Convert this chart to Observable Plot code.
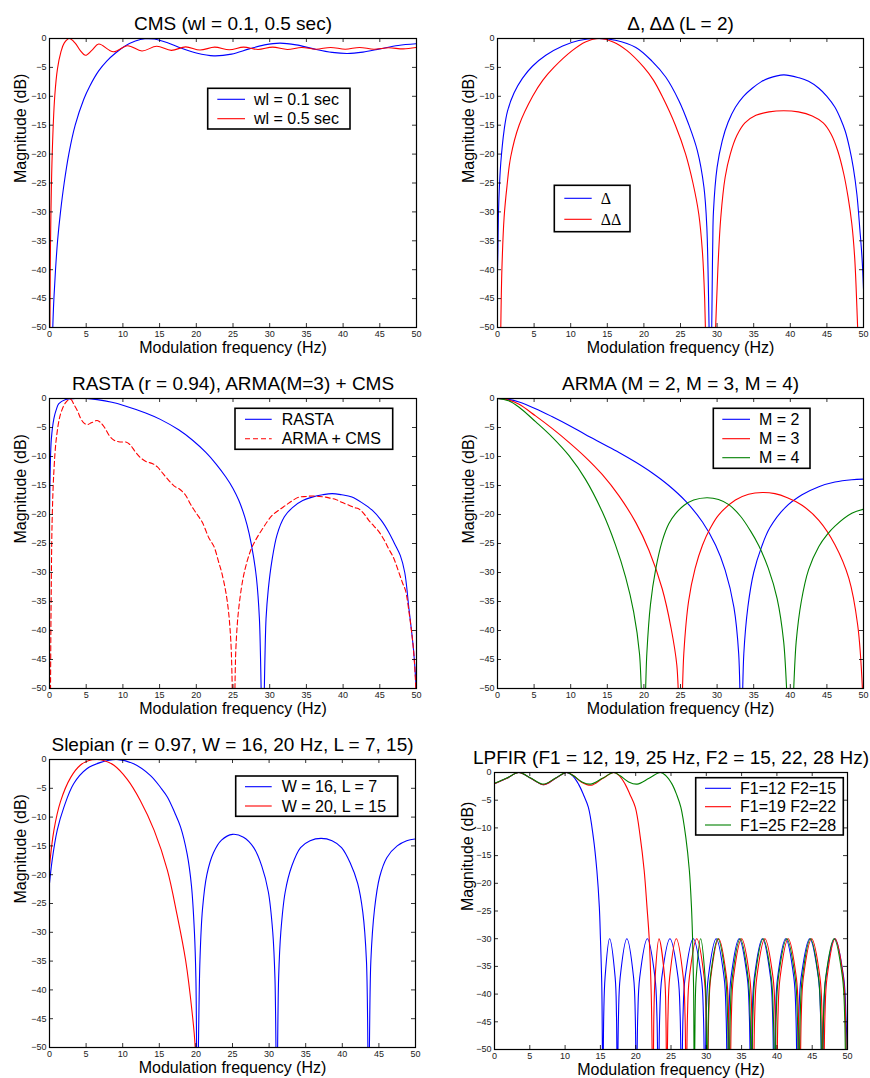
<!DOCTYPE html>
<html><head><meta charset="utf-8">
<script src="https://cdn.jsdelivr.net/npm/d3@7"></script>
<script src="https://cdn.jsdelivr.net/npm/@observablehq/plot@0.6"></script>
<style>
body{margin:0;background:#fff;}
#fig{position:relative;width:870px;height:1078px;background:#fff;overflow:hidden;}
.pn{position:absolute;}
</style></head><body><div id="fig"></div>
<script>
// ---------- tick values ----------
const xTicks = [0,5,10,15,20,25,30,35,40,45,50];
const yTicks = [0,-5,-10,-15,-20,-25,-30,-35,-40,-45,-50];

// ---------- titles & labels ----------
const titles = ["CMS (wl = 0.1, 0.5 sec)", "Δ, ΔΔ (L = 2)", "RASTA (r = 0.94), ARMA(M=3) + CMS",
  "ARMA (M = 2, M = 3, M = 4)", "Slepian (r = 0.97, W = 16, 20 Hz, L = 7, 15)",
  "LPFIR (F1 = 12, 19, 25 Hz, F2 = 15, 22, 28 Hz)"];
const xLabel = "Modulation frequency (Hz)";
const yLabel = "Magnitude (dB)";
const cmsLabels = ["wl = 0.1 sec", "wl = 0.5 sec"];
const deltaLabels = ["Δ", "ΔΔ"];
const rastaLabels = ["RASTA", "ARMA + CMS"];
const armaLabels = ["M = 2", "M = 3", "M = 4"];
const slepLabels = ["W = 16, L = 7", "W = 20, L = 15"];
const firLabels = ["F1=12 F2=15", "F1=19 F2=22", "F1=25 F2=28"];

// ---------- series: [frequency Hz, magnitude dB] ----------
const cmsShort = [[0.35,-60],[0.45,-50],[0.6,-45],[0.82,-40],[1.1,-35],[1.5,-30],[2.0,-25],[2.63,-20],[3.5,-15],[4.67,-10.5],[5.5,-8.2],[6.7,-5.6],[7.8,-3.9],[9.0,-2.5],[10.3,-1.3],[11.7,-0.45],[13.0,-0.05],[14.3,-0.1],[16.0,-0.7],[18.0,-1.7],[20.0,-2.5],[22.4,-3.0],[24.8,-2.7],[27.2,-1.8],[29.3,-1.1],[31.4,-0.8],[33.6,-1.1],[36.0,-1.8],[38.5,-2.4],[40.6,-2.6],[42.7,-2.35],[45.0,-1.8],[47.5,-1.2],[50,-0.9]];
const cmsLong = [[0.05,-60],[0.1,-40],[0.37,-20],[0.72,-9.9],[1.09,-5.2],[1.54,-2.4],[2.0,-0.8],[2.7,0],[3.5,-0.8],[4.2,-2.1],[4.9,-2.9],[5.8,-2.0],[6.7,-0.95],[8.7,-2.3],[10.65,-1.25],[12.6,-2.15],[14.6,-1.35],[16.6,-2.05],[18.55,-1.45],[20.5,-2.0],[22.5,-1.5],[24.5,-1.95],[26.45,-1.5],[28.4,-1.9],[30.4,-1.5],[32.4,-1.9],[34.35,-1.55],[36.3,-1.85],[38.3,-1.55],[40.3,-1.85],[42.25,-1.55],[44.2,-1.85],[46.2,-1.6],[48.2,-1.8],[50,-1.55]];

const deltaD = [[0,-40],[0.05,-37],[0.12,-31],[0.23,-26.5],[0.45,-21.5],[0.91,-15.8],[1.36,-12.6],[2.27,-9.4],[3.4,-6.9],[4.77,-4.8],[6.6,-2.9],[8.9,-1.3],[11.1,-0.35],[13.6,0],[16.1,-0.3],[18.9,-1.55],[21.1,-3.9],[23,-6.7],[24.8,-10.8],[26.1,-14.8],[27.3,-19.4],[28.2,-25.7],[28.6,-32.7],[29.1,-60],[29.4,-36],[29.5,-30],[30,-22.3],[30.7,-17.7],[31.5,-14.5],[32.5,-11.9],[33.6,-10],[34.8,-8.6],[36,-7.5],[37,-6.9],[39.1,-6.3],[41.2,-6.8],[42.5,-7.4],[43.9,-8.6],[45,-10],[46.1,-11.9],[46.9,-14],[47.5,-16],[48.1,-19],[48.6,-22.3],[49.1,-27],[49.5,-33],[49.8,-38],[50,-43.3]];
const deltaDD = [[0.35,-60],[0.45,-50],[0.6,-40],[0.9,-31],[1.3,-25.5],[1.8,-20.5],[2.95,-15],[4.8,-10],[6.2,-7.2],[7.7,-5],[10.2,-2.1],[12,-0.6],[13.9,0],[15.8,-0.6],[17.7,-2.1],[20,-5],[21.3,-7.2],[22.5,-10],[24.3,-15],[25.7,-20],[26.7,-25],[27.5,-30.4],[28.0,-37],[28.3,-45],[28.6,-60],[29.05,-90],[29.5,-60],[29.8,-50],[30.1,-40],[30.5,-31],[31.1,-24],[31.8,-20],[32.7,-16.8],[33.8,-14.6],[35.3,-13.3],[37.1,-12.7],[39.1,-12.5],[41.1,-12.7],[43.0,-13.4],[44.5,-14.6],[45.6,-16.6],[46.5,-19.5],[47.3,-23.4],[47.9,-27.5],[48.4,-32],[48.8,-38],[49.2,-50],[49.5,-60]];

const rasta = [[0,-19.5],[0.1,-12],[0.25,-7],[0.59,-3.5],[0.9,-2.0],[1.27,-0.9],[2.2,-0.17],[3.5,0],[5,0],[6.5,-0.2],[8.5,-0.65],[10.1,-1.2],[13.1,-2.5],[15.1,-3.6],[17.6,-5.4],[19.5,-7.2],[21.3,-9.3],[22.7,-11.3],[24,-13.5],[25,-15.5],[25.8,-17.6],[26.6,-20.4],[27.2,-23.3],[27.8,-27.3],[28.2,-31],[28.6,-38],[29.05,-60],[29.5,-38],[29.8,-33],[30.3,-28],[31.0,-23.5],[32,-20.4],[33.1,-18.8],[34.5,-17.6],[35.8,-17.0],[37.2,-16.6],[38.5,-16.4],[39.8,-16.6],[41.2,-17.0],[42.6,-18.0],[44,-19.3],[45.2,-21],[46.2,-23],[47,-25],[47.8,-27.1],[48.4,-30],[48.95,-36],[49.6,-43.4],[49.95,-50],[50,-52]];
const armaCms = [[0.12,-60],[0.15,-48],[0.23,-34],[0.36,-21],[0.6,-12.5],[0.95,-6.7],[1.5,-2.7],[2.2,-0.7],[2.86,-0.1],[3.4,-1.2],[3.8,-2.1],[4.2,-3.3],[4.6,-4.1],[5.1,-4.5],[5.7,-4.2],[6.5,-3.8],[7.0,-4.2],[7.5,-5.0],[8.2,-6.5],[8.8,-7.2],[9.6,-7.5],[10.4,-7.5],[11.0,-8.0],[11.7,-9.2],[12.4,-10.2],[13.2,-10.9],[14.0,-11.2],[14.7,-11.8],[15.5,-13.0],[16.3,-14.2],[17.0,-15.1],[17.7,-15.6],[18.5,-16.6],[19.2,-18.2],[19.9,-19.6],[20.8,-21.3],[21.7,-24.0],[22.4,-25.5],[23.0,-28.0],[23.5,-30.2],[24.2,-34.8],[24.7,-41.7],[25.1,-60],[25.4,-42.9],[25.8,-36],[26.5,-30.2],[27.4,-26.2],[28.0,-24.6],[29,-22.5],[30.3,-20.2],[31.3,-19.2],[32.2,-18.4],[33.1,-17.6],[34,-17.0],[35,-16.9],[35.8,-16.8],[36.8,-16.9],[37.6,-17.0],[38.3,-17.2],[39,-17.4],[39.8,-17.9],[40.8,-18.4],[41.5,-18.8],[42.1,-19.0],[42.8,-19.8],[43.5,-21],[44.2,-22],[44.9,-23],[45.6,-24.4],[46.2,-25.9],[46.7,-27],[47.1,-28.2],[47.6,-30],[48.1,-31.8],[48.5,-33.1],[49.0,-37],[49.4,-41],[49.6,-43.4],[49.9,-50],[50,-60]];

const arma2 = [[0,0],[1.5,-0.15],[2.95,-0.6],[5.2,-1.75],[7.5,-3.15],[9.8,-4.65],[12,-6.2],[14.3,-7.75],[16.6,-9.3],[18.9,-11.0],[21.1,-12.8],[23.4,-15.0],[25.7,-17.7],[28,-21.3],[29.8,-25.3],[31.1,-29.6],[32.3,-36],[32.95,-44],[33.3,-60],[33.65,-44],[34.2,-36],[35.0,-30],[36.1,-25.5],[37.2,-22.3],[39.3,-18.8],[41.6,-16.6],[43.9,-15.2],[46.1,-14.4],[48.4,-14.0],[50,-13.9]];
const arma3 = [[0,0],[1.5,-0.25],[2.95,-1.0],[5.2,-3.0],[7.5,-5.2],[9.8,-7.6],[12,-10.1],[14.3,-13.1],[16.6,-16.8],[18.9,-21.4],[20.7,-26.2],[22.5,-32.8],[23.7,-39.5],[24.5,-46],[25.0,-60],[25.45,-44],[26.1,-35],[27,-29.3],[28,-25.3],[29.1,-22.3],[30.2,-20.1],[32.5,-17.5],[34.3,-16.5],[36.2,-16.2],[37.9,-16.4],[39.6,-17.1],[41.6,-18.4],[43.9,-21],[46.1,-25.2],[48,-31],[49.2,-39],[49.85,-50],[50,-60]];
const arma4 = [[0,0],[1.5,-0.4],[2.95,-1.5],[5.2,-4.0],[7.5,-6.7],[9.8,-9.9],[12,-13.9],[14.3,-19.5],[16.1,-25.2],[17.5,-30.8],[18.6,-36.8],[19.4,-44],[19.95,-60],[20.4,-44],[20.9,-35.5],[21.6,-29.5],[22.5,-24.6],[23.4,-21.6],[24.3,-19.9],[25.5,-18.4],[26.8,-17.5],[28.6,-17.1],[30.2,-17.4],[31.6,-18.3],[33.2,-20.3],[34.5,-22.7],[35.7,-25.4],[37,-29.3],[38.2,-34.5],[39.1,-42],[40.0,-60],[40.8,-42],[41.5,-35],[42.5,-29.5],[43.9,-25.5],[45.0,-23.5],[46.1,-22.0],[48.4,-19.8],[50,-19.1]];

const slep16 = [[0,-21.5],[0.36,-17.5],[1.05,-12.3],[1.96,-8.3],[3.3,-4.2],[5.1,-1.6],[7.0,-0.5],[9.2,0],[11.5,-0.75],[13.8,-2.8],[15.2,-4.9],[16.1,-6.5],[17.1,-9.2],[17.9,-11.7],[18.8,-16.4],[19.4,-22],[19.8,-30],[20.0,-38],[20.2,-60],[20.55,-35],[20.9,-26],[21.5,-20],[22.4,-16.2],[23.5,-14],[25.0,-13.0],[26.5,-13.5],[27.9,-15.3],[29.0,-18.5],[29.9,-23],[30.5,-30],[30.8,-38],[31.05,-60],[31.3,-38],[31.6,-30],[32.2,-23],[33.1,-18.5],[34.3,-15.3],[35.6,-14.1],[37.1,-13.7],[38.6,-14.1],[39.9,-15.3],[41.1,-18],[42.1,-21.5],[42.8,-26.5],[43.3,-35],[43.6,-60],[43.9,-35],[44.4,-26],[45.1,-20.4],[46.1,-17],[47.5,-15],[48.8,-14.1],[50,-13.8]];
const slep20 = [[0,-18.5],[0.6,-12.3],[1.5,-7.3],[2.9,-3.1],[4.2,-1.0],[5.3,-0.2],[6.5,0],[7.5,-0.2],[8.8,-1.0],[10.6,-3.4],[12.4,-7.1],[14.3,-12.3],[16.1,-19.2],[17.4,-26.8],[18.6,-34.9],[19.5,-44.1],[19.9,-49.9],[20.0,-60]];

const fir12 = [[0,-2.05],[1.75,-1.05],[3.45,0],[5.2,-1.1],[6.95,-2.2],[8.6,-1.1],[10.2,0],[11.0,-0.5],[11.9,-2.1],[12.6,-4.0],[13.3,-6.3],[14.0,-11.7],[14.5,-17.7],[14.85,-24.3],[15.0,-29.7],[15.2,-38.7],[15.35,-60],
 [15.47,-44],[15.66,-37],[16.3,-30],[17.09,-37],[17.28,-44],[17.4,-60],
 [17.56,-44],[17.8,-37],[18.75,-30],[19.7,-37],[19.94,-44],[20.1,-60],
 [20.29,-44],[20.57,-37],[21.65,-30],[22.73,-37],[23.01,-44],[23.2,-60],
 [23.4,-44],[23.7,-37],[24.85,-30],[26.0,-37],[26.3,-44],[26.5,-60],
 [26.7,-44],[27.0,-37],[28.15,-30],[29.3,-37],[29.6,-44],[29.8,-60],
 [29.99,-44],[30.28,-37],[31.4,-30],[32.52,-37],[32.81,-44],[33.0,-60],
 [33.2,-44],[33.5,-37],[34.65,-30],[35.8,-37],[36.1,-44],[36.3,-60],
 [36.5,-44],[36.8,-37],[37.95,-30],[39.1,-37],[39.4,-44],[39.6,-60],
 [39.8,-44],[40.1,-37],[41.25,-30],[42.4,-37],[42.7,-44],[42.9,-60],
 [43.11,-44],[43.43,-37],[44.65,-30],[45.87,-37],[46.19,-44],[46.4,-60],
 [46.62,-44],[46.94,-37],[48.2,-30],[49.46,-37],[49.78,-44],[50,-52]];
const fir19 = [[0,-2.05],[1.75,-1.05],[3.45,0],[5.2,-1.1],[6.95,-2.2],[8.6,-1.1],[10.2,0],[11.2,-0.6],[12.4,-1.8],[13.7,-2.3],[15.3,-1.1],[16.9,0],[17.7,-0.6],[18.5,-2.1],[19.2,-4.0],[19.95,-6.3],[20.65,-11.7],[21.2,-17.7],[21.6,-24.3],[21.9,-29.7],[22.2,-40],[22.45,-60],
 [22.57,-44],[22.75,-37],[23.3,-30],[24.1,-37],[24.28,-44],[24.4,-60],
 [24.57,-44],[24.81,-37],[25.75,-30],[26.74,-37],[26.99,-44],[27.15,-60],
 [27.33,-44],[27.6,-37],[28.65,-30],[29.7,-37],[29.97,-44],[30.15,-60],
 [30.34,-44],[30.63,-37],[31.75,-30],[32.87,-37],[33.16,-44],[33.35,-60],
 [33.55,-44],[33.85,-37],[35.0,-30],[36.15,-37],[36.45,-44],[36.65,-60],
 [36.85,-44],[37.15,-37],[38.3,-30],[39.45,-37],[39.75,-44],[39.95,-60],
 [40.15,-44],[40.45,-37],[41.6,-30],[42.75,-37],[43.05,-44],[43.25,-60],
 [43.45,-44],[43.75,-37],[44.92,-30],[46.1,-37],[46.4,-44],[46.6,-60],
 [46.8,-44],[47.1,-37],[48.25,-30],[49.4,-37],[49.7,-44],[49.9,-60],[50,-50]];
const fir25 = [[0,-1.95],[1.75,-1.0],[3.45,0],[5.2,-1.05],[6.95,-2.1],[8.6,-1.05],[10.2,0],[11.2,-0.6],[12.4,-1.7],[13.6,-2.1],[15.3,-1.05],[16.9,0],[17.8,-0.6],[19.0,-1.7],[20.2,-2.1],[21.9,-1.05],[23.5,0],[24.3,-0.6],[25.15,-2.1],[25.8,-4.0],[26.4,-6.3],[27.1,-11.7],[27.6,-17.7],[27.9,-24.3],[28.05,-29.7],[28.2,-38.7],[28.3,-60],
 [28.41,-44],[28.57,-37],[29.2,-30],[29.83,-37],[29.99,-44],[30.1,-60],
 [30.29,-44],[30.57,-37],[31.65,-30],[32.73,-37],[33.01,-44],[33.2,-60],
 [33.39,-44],[33.68,-37],[34.8,-30],[35.92,-37],[36.21,-44],[36.4,-60],
 [36.6,-44],[36.9,-37],[38.05,-30],[39.2,-37],[39.5,-44],[39.7,-60],
 [39.9,-44],[40.21,-37],[41.4,-30],[42.59,-37],[42.9,-44],[43.1,-60],
 [43.3,-44],[43.6,-37],[44.75,-30],[45.9,-37],[46.2,-44],[46.4,-60],
 [46.6,-44],[46.91,-37],[48.1,-30],[49.29,-37],[49.6,-44],[49.8,-60],[50,-46]];

// ---------- styling ----------
const BLUE = "#0000ff", RED = "#ff0000", GREEN = "#008000";
const FONT = '"Liberation Sans", Arial, Helvetica, sans-serif';
const fmt = d3.format("d");

const panels = [
  {left:0, top:0, width:435, height:360, ml:49, mr:19, mt:38, mb:33, ydx:-29, title:titles[0],
   series:[{data:cmsShort,color:BLUE},{data:cmsLong,color:RED}],
   legend:{box:[207.7,88.3,142.3,40.7], rows:[99.3,118.7], lx:[217.3,245], tx:254, labels:cmsLabels}},
  {left:435, top:0, width:435, height:360, ml:62, mr:7, mt:38, mb:33, ydx:-29, title:titles[1],
   series:[{data:deltaD,color:BLUE},{data:deltaDD,color:RED}],
   legend:{box:[119.3,185.3,75.7,46.4], rows:[198.3,219.3], lx:[129.3,156.7], tx:165.7, labels:deltaLabels, serif:true}},
  {left:0, top:360, width:435, height:360, ml:49, mr:19, mt:38, mb:32, ydx:-29, title:titles[2],
   series:[{data:rasta,color:BLUE},{data:armaCms,color:RED,dash:"5,3"}],
   legend:{box:[235,48.3,157.7,41], rows:[59.3,78.7], lx:[245,271.7], tx:281.7, labels:rastaLabels}},
  {left:435, top:360, width:435, height:360, ml:62, mr:7, mt:38, mb:32, ydx:-29, title:titles[3],
   series:[{data:arma2,color:BLUE},{data:arma3,color:RED},{data:arma4,color:GREEN}],
   legend:{box:[278.3,48.3,96.7,60], rows:[59.3,78.7,97.7], lx:[287.3,315], tx:324, labels:armaLabels}},
  {left:0, top:720, width:435, height:358, ml:49, mr:20, mt:39, mb:31, ydx:-29, title:titles[4],
   series:[{data:slep16,color:BLUE},{data:slep20,color:RED}],
   legend:{box:[235.7,56,162,40.3], rows:[66.7,86], lx:[245,271.7], tx:281.7, labels:slepLabels}},
  {left:435, top:720, width:435, height:358, ml:59, mr:23, mt:52, mb:29, ydx:-26.5, title:titles[5],
   series:[{data:fir12,color:BLUE},{data:fir19,color:RED},{data:fir25,color:GREEN}],
   legend:{box:[260.7,57.7,147.6,57.3], rows:[68.3,86.7,105], lx:[270,296], tx:305, labels:firLabels}}
];

const fig = document.getElementById("fig");

panels.forEach(p => {
  const fw = p.width - p.ml - p.mr, fh = p.height - p.mt - p.mb;
  const marks = [];
  p.series.forEach(s => marks.push(Plot.line(s.data, {
    x: d => d[0], y: d => d[1], stroke: s.color, strokeWidth: 1.1,
    strokeDasharray: s.dash, curve: "catmull-rom", clip: true
  })));
  marks.push(Plot.tickX(xTicks, {x: d => d, stroke: "black", strokeWidth: 0.8, insetTop: fh - 4}));
  marks.push(Plot.tickX(xTicks, {x: d => d, stroke: "black", strokeWidth: 0.8, insetBottom: fh - 4}));
  marks.push(Plot.tickY(yTicks, {y: d => d, stroke: "black", strokeWidth: 0.8, insetRight: fw - 4}));
  marks.push(Plot.tickY(yTicks, {y: d => d, stroke: "black", strokeWidth: 0.8, insetLeft: fw - 4}));
  marks.push(Plot.frame({stroke: "black", strokeWidth: 1.2}));
  marks.push(Plot.text([p.title], {text: d => d, frameAnchor: "top", dy: -15, lineAnchor: "middle", fontSize: 19, fill: "black"}));
  marks.push(Plot.text([xLabel], {text: d => d, frameAnchor: "bottom", dy: 20.5, lineAnchor: "middle", fontSize: 16, fill: "black"}));
  marks.push(Plot.text([yLabel], {text: d => d, frameAnchor: "left", dx: p.ydx, rotate: -90, lineAnchor: "middle", fontSize: 16, fill: "black"}));

  const svg = Plot.plot({
    width: p.width, height: p.height,
    marginLeft: p.ml, marginRight: p.mr, marginTop: p.mt, marginBottom: p.mb,
    x: {domain: [0, 50], ticks: xTicks, tickSize: 0, tickPadding: 3, tickFormat: fmt, label: null},
    y: {domain: [-50, 0], ticks: yTicks, tickSize: 0, tickPadding: 3, tickFormat: fmt, label: null},
    style: {fontFamily: FONT, fontSize: "9px", color: "#222", background: "transparent", overflow: "visible", maxWidth: "none"},
    marks
  });

  // legend box
  const L = p.legend;
  const g = d3.select(svg).append("g");
  g.append("rect").attr("x", L.box[0]).attr("y", L.box[1]).attr("width", L.box[2]).attr("height", L.box[3])
    .attr("fill", "white").attr("stroke", "black").attr("stroke-width", 1.6);
  L.labels.forEach((lab, i) => {
    const s = p.series[i];
    g.append("line").attr("x1", L.lx[0]).attr("x2", L.lx[1]).attr("y1", L.rows[i]).attr("y2", L.rows[i])
      .attr("stroke", s.color).attr("stroke-width", 1.1).attr("stroke-dasharray", s.dash || null);
    g.append("text").attr("x", L.tx).attr("y", L.rows[i]).attr("dy", "0.36em")
      .attr("text-anchor", "start")
      .attr("font-size", 16).attr("fill", "black")
      .attr("font-family", L.serif ? '"Liberation Serif", "DejaVu Serif", serif' : FONT)
      .text(lab);
  });

  const div = document.createElement("div");
  div.className = "pn";
  div.style.left = p.left + "px";
  div.style.top = p.top + "px";
  div.style.width = p.width + "px";
  div.style.height = p.height + "px";
  div.appendChild(svg);
  fig.appendChild(div);
});
</script>
</body></html>
